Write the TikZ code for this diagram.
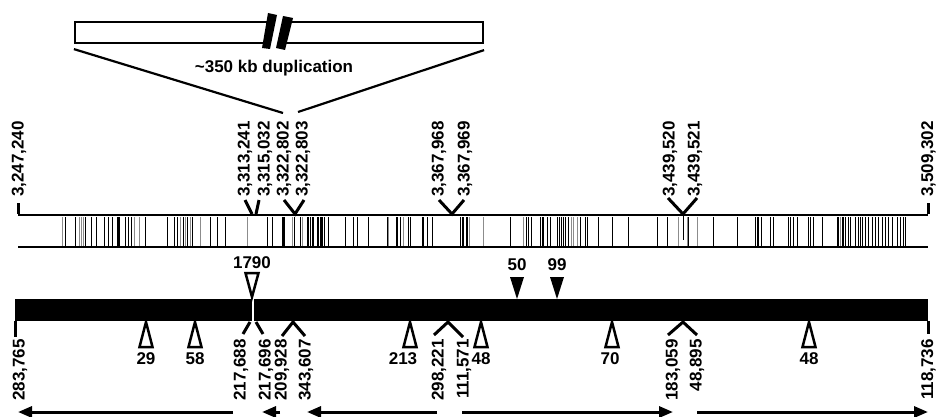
\documentclass[tikz,border=0pt]{standalone}
\usepackage{fontspec}
\setmainfont{Liberation Sans}
\usepackage{tikz}
\usetikzlibrary{positioning,arrows.meta}

\newcommand{\lblfont}{\fontsize{17}{20}\selectfont\bfseries}

\begin{document}
\begin{tikzpicture}[
    x=1pt, y=-1pt,
    lbl/.style={font=\lblfont, inner sep=0pt},
    toplbl/.style={lbl, rotate=90, anchor=west},
    botlbl/.style={lbl, rotate=90, anchor=east},
    cut/.style={line width=3pt},
    edge/.style={line width=2.2pt},
    snp/.style={line width=0.7pt},
    snpgray/.style={line width=0.7pt, black!45},
    snpthick/.style={line width=1.8pt},
    tri/.style={line width=2.5pt, fill=white, line join=miter},
    gene/.style={line width=3pt, -{Triangle[length=14pt,width=11pt]}}
]
\useasboundingbox (0,0) rectangle (937,417);

% duplication
\node[draw, edge, minimum width=408pt, minimum height=21pt, inner sep=0pt] (dup) at (279,32.5) {};
\fill[white] (273,14) -- (288,17) -- (280,49) -- (266,48) -- cycle;
\fill (268,13) -- (277,15) -- (270,49) -- (262,48) -- cycle;
\fill (283,16) -- (293,18) -- (285,50) -- (276,48) -- cycle;
\coordinate (dupL) at (283,113);
\coordinate (dupR) at (298,112);
\draw[edge] ([yshift=-5pt]dup.south west) -- (dupL);
\draw[edge] ([yshift=-6pt]dup.south east) -- (dupR);
\node[lbl] (duptext) at (274,68) {\textasciitilde350 kb duplication};

% sequence bar
\coordinate (barL) at (18,215);
\coordinate (barR) at (928,215);
\draw[edge] (barL) -- (barR);
\draw[edge] (18,247) -- (928,247);
\foreach \x in {65,75,85,91,96,104,108,112,119,125,128,131,145,167,174,177,183,187,192,
    210,217,225,267,272,284,294,300,307,308,310,312,313,317,318,320,324,328,345,353,357,
    368,387,400,408,410,422,427,432,460,510,526,528,531,540,547,550,557,559,561,563,565,
    568,580,585,587,598,612,628,657,667,688,713,737,755,757,758,761,770,773,788,790,793,
    797,808,810,813,822,837,838,842,843,845,848,850,855,858,860,862,865,868,872,875,878,
    882,885,888,892,897,900,903,905}
    \draw[snp] (\x,217) -- (\x,246);
\foreach \x in {62,79,81,83,134,139,180,185,190,200,247,292,302,388,403,469,483,523,571,
    573,577,678,687,697,840}
    \draw[snpgray] (\x,217) -- (\x,246);
\foreach \x in {118,283,322,397,423,463,467,543}
    \draw[snpthick] (\x,217) -- (\x,246);
\draw[snp] (683,215) -- (683,240);

\draw[cut] (18,203) -- (18,214);
\draw[cut] (928,203) -- (928,214);
\draw[cut] (245,200) -- (252,214);
\draw[cut] (259,200) -- (256,214);
\draw[cut] (284,200) -- (295,214) -- (304,200);
\draw[cut] (439,200) -- (452,214) -- (464,200);
\draw[cut] (668,198) -- (683,214) -- (697,198);

\foreach \x/\t [count=\i] in {19/{3,247,240}, 245/{3,313,241}, 265/{3,315,032},
    284/{3,322,802}, 303/{3,322,803}, 439/{3,367,968}, 465/{3,367,969},
    670/{3,439,520}, 695/{3,439,521}, 928.5/{3,509,302}}
    \node[toplbl] (top\i) at (\x,197) {\t};

% contig bar
\fill (15,299) rectangle (928,321);
\draw[white, line width=1.8pt] (253,299) -- (253,321);

\draw[tri] (245.5,273) -- (258.5,273) -- (252,297) -- cycle;
\node[lbl, anchor=south] (ins1790) at (252,269) {1790};
\foreach \x/\t in {517/50, 557/99} {
    \fill (\x-7,277) -- (\x+7,277) -- (\x,299) -- cycle;
    \node[lbl, anchor=south] (del\t) at (\x,271) {\t};
}

\foreach \x/\lx/\t [count=\i] in {146/146/29, 195/195/58, 410/403/213, 481/481/48,
    612/610/70, 809/809/48} {
    \draw[tri] (\x,322) -- (\x+6.5,347) -- (\x-6.5,347) -- cycle;
    \node[lbl, anchor=north] (gap\i) at (\lx,352) {\t};
}

\draw[cut] (15,321) -- (15,337);
\draw[cut] (928,321) -- (928,334);
\draw[cut] (250,322) -- (243,334);
\draw[cut] (256,322) -- (263,334);
\draw[cut] (282,336) -- (293,322) -- (305,336);
\draw[cut] (434,335) -- (448,322) -- (463,337);
\draw[cut] (668,335) -- (683,322) -- (697,335);

\foreach \x/\t [count=\i] in {20/{283,765}, 241/{217,688}, 266/{217,696},
    282/{209,928}, 306/{343,607}, 439/{298,221}, 464/{111,571},
    673/{183,059}, 697/{48,895}, 928.5/{118,736}}
    \node[botlbl] (bot\i) at (\x,339) {\t};

% genes
\coordinate (g1a) at (233,412); \coordinate (g1b) at (18,412);
\coordinate (g2a) at (280,412); \coordinate (g2b) at (262,412);
\coordinate (g3a) at (437,412); \coordinate (g3b) at (307,412);
\coordinate (g4a) at (462,412); \coordinate (g4b) at (673,412);
\coordinate (g5a) at (697,412); \coordinate (g5b) at (928,412);
\foreach \i in {1,...,5}
    \draw[gene] (g\i a) -- (g\i b);
\end{tikzpicture}
\end{document}
